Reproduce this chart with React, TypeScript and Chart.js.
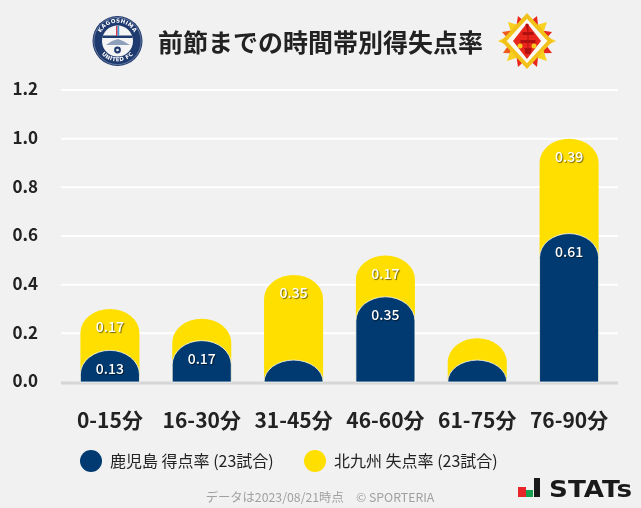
import React, { useEffect, useRef } from "react";
import { Chart, registerables } from "chart.js";

Chart.register(...registerables);

const categories = ["0-15分", "16-30分", "31-45分", "46-60分", "61-75分", "76-90分"];
const kagoshimaScored = [0.13, 0.17, 0.09, 0.35, 0.09, 0.61];
const kitakyushuConceded = [0.17, 0.09, 0.35, 0.17, 0.09, 0.39];
const yTicks = [0, 0.2, 0.4, 0.6, 0.8, 1.0, 1.2];
const kagoshimaLabel = "鹿児島 得点率 (23試合)";
const kitakyushuLabel = "北九州 失点率 (23試合)";
const titleText = "前節までの時間帯別得失点率";
const footerText = "データは2023/08/21時点　© SPORTERIA";
const labelThreshold = 0.1;

const FONT = '"Noto Sans CJK JP", "Noto Sans", sans-serif';
const NAVY = "#003a70";
const YELLOW = "#ffdf00";
const BG = "#f1f1f1";
const DOME_H = 24;
const LEGEND_X = [91, 315];

const domePlugin = {
  id: "dome",
  beforeDatasetsDraw(chart: any) {
    const { ctx, scales } = chart;
    const yScale = scales.y;
    const { left, right } = chart.chartArea;
    ctx.save();
    yScale.ticks.forEach((t: any) => {
      const py = yScale.getPixelForValue(t.value);
      ctx.beginPath();
      ctx.lineWidth = t.value === 0 ? 3 : 2;
      ctx.strokeStyle = t.value === 0 ? "#d6d6d6" : "#ffffff";
      ctx.moveTo(left - 3, t.value === 0 ? py + 1 : py);
      ctx.lineTo(right + 3, t.value === 0 ? py + 1 : py);
      ctx.stroke();
    });
    ctx.restore();
  },
  beforeDatasetDraw(chart: any, args: any) {
    const { ctx, scales } = chart;
    const zero = scales.y.getPixelForValue(0);
    const ds = chart.data.datasets[args.index];
    ctx.save();
    args.meta.data.forEach((el: any) => {
      const { x, y, width } = el.getProps(["x", "y", "width"], true);
      const rx = width / 2;
      const ry = Math.min(DOME_H, zero - y);
      const sy = y + ry;
      ctx.beginPath();
      ctx.moveTo(x - rx, zero);
      ctx.lineTo(x - rx, sy);
      ctx.ellipse(x, sy, rx, ry, 0, Math.PI, 2 * Math.PI);
      ctx.lineTo(x + rx, zero);
      ctx.closePath();
      ctx.fillStyle = ds.backgroundColor;
      ctx.fill();
      if (args.index === 0) {
        ctx.lineWidth = 1;
        ctx.strokeStyle = "rgba(255,255,255,0.75)";
        ctx.stroke();
      }
    });
    ctx.restore();
    return false;
  },
  afterDatasetsDraw(chart: any) {
    const { ctx } = chart;
    ctx.save();
    ctx.font = `500 14px ${FONT}`;
    ctx.textAlign = "center";
    ctx.textBaseline = "middle";
    chart.data.datasets.forEach((ds: any, i: number) => {
      chart.getDatasetMeta(i).data.forEach((el: any, j: number) => {
        const v = ds.data[j];
        if (v < labelThreshold) return;
        const { x, y } = el.getProps(["x", "y"], true);
        ctx.shadowColor = "rgba(0,0,0,0.55)";
        ctx.shadowBlur = 1;
        ctx.shadowOffsetX = 1;
        ctx.shadowOffsetY = 1;
        ctx.fillStyle = "#ffffff";
        ctx.fillText(v.toFixed(2), x, y + 18);
      });
    });
    ctx.restore();
  },
  afterLayout(chart: any) {
    const t = chart.titleBlock;
    if (t) {
      t.left = 13;
      t.right = 628;
    }
  },
  afterDraw(chart: any) {
    const { ctx } = chart;
    ctx.save();
    // legend
    ctx.textBaseline = "middle";
    ctx.textAlign = "left";
    ctx.font = `400 16px ${FONT}`;
    chart.data.datasets.forEach((ds: any, i: number) => {
      ctx.beginPath();
      ctx.arc(LEGEND_X[i], 461, 11, 0, Math.PI * 2);
      ctx.fillStyle = ds.backgroundColor;
      ctx.fill();
      ctx.fillStyle = "#222222";
      ctx.fillText(ds.label, LEGEND_X[i] + 19, 461);
    });
    // footer
    ctx.font = `400 12.3px ${FONT}`;
    ctx.fillStyle = "#a0a0a0";
    ctx.textAlign = "center";
    ctx.fillText(footerText, 320, 497);
    ctx.restore();
  },
};

const spikes: [number, number, string][] = [
  [518, 16, "#e8261c"], [537, 16, "#e8261c"], [502, 32, "#f05a1c"], [552, 32, "#e8261c"],
  [508, 22, "#f8d020"], [547, 22, "#f8d020"], [498, 41, "#f8d020"], [556, 41, "#f8d020"],
  [503, 53, "#f05a1c"], [552, 53, "#e8261c"], [507, 61, "#f8d020"], [547, 61, "#f8d020"],
  [518, 67, "#e8261c"], [537, 67, "#e8261c"],
];

function spikePoints(tx: number, ty: number) {
  const cx = 527;
  const cy = 41;
  const dx = tx - cx;
  const dy = ty - cy;
  const len = Math.hypot(dx, dy);
  const ux = dx / len;
  const uy = dy / len;
  const bx = cx + ux * 12;
  const by = cy + uy * 12;
  return `${tx},${ty} ${bx - uy * 8},${by + ux * 8} ${bx + uy * 8},${by - ux * 8}`;
}

export default function App() {
  const ref = useRef<HTMLCanvasElement>(null);
  useEffect(() => {
    document.body.style.margin = "0";
    document.body.style.background = BG;
    const chart = new Chart(ref.current as HTMLCanvasElement, {
      type: "bar",
      data: {
        labels: categories,
        datasets: [
          { label: kagoshimaLabel, data: kagoshimaScored, backgroundColor: NAVY, categoryPercentage: 0.643, barPercentage: 1 },
          { label: kitakyushuLabel, data: kitakyushuConceded, backgroundColor: YELLOW, categoryPercentage: 0.643, barPercentage: 1 },
        ],
      },
      plugins: [domePlugin],
      options: {
        responsive: false,
        animation: false,
        devicePixelRatio: 1,
        layout: { padding: { left: 0, right: 26, top: 0, bottom: 70 } },
        plugins: {
          tooltip: { enabled: false },
          title: {
            display: true,
            text: titleText,
            color: "#222222",
            font: { family: FONT, size: 25, weight: "700" },
            padding: { top: 27, bottom: 33 },
          },
          legend: { display: false },
        },
        scales: {
          x: {
            stacked: true,
            grid: { display: false, drawTicks: false },
            border: { display: false },
            ticks: { color: "#222222", font: { family: FONT, size: 21, weight: "700" }, padding: 25, maxRotation: 0, autoSkip: false },
            afterFit: (s: any) => { s.height = 56; },
          },
          y: {
            stacked: true,
            min: 0,
            max: 1.2,
            afterBuildTicks: (s: any) => { s.ticks = yTicks.map((value) => ({ value })); },
            grid: { display: false, drawTicks: false },
            border: { display: false },
            ticks: { color: "#222222", font: { family: FONT, size: 17, weight: "700" }, padding: 26, labelOffset: -1, callback: (v: any) => Number(v).toFixed(1) },
            afterFit: (s: any) => { s.width = 64; },
          },
        },
      } as any,
    });
    return () => chart.destroy();
  }, []);

  return (
    <div style={{ position: "fixed", left: 0, top: 0, width: 641, height: 508, background: BG, overflow: "hidden" }}>
      <canvas ref={ref} width={641} height={508} style={{ display: "block" }} />
      <svg width={641} height={508} style={{ position: "absolute", left: 0, top: 0, pointerEvents: "none" }}>
        {/* Kagoshima crest */}
        <g>
          <circle cx={117.5} cy={41} r={25} fill="#1f3a6e" />
          <circle cx={117.5} cy={41} r={23.6} fill="none" stroke="#aab6cc" strokeWidth={0.5} />
          <circle cx={117.5} cy={41} r={15.5} fill="#f4f4f4" />
          <path d="M102.5 35.5h30v2.5h-30z" fill="#1f3a6e" />
          <path d="M106 45l6-4 6-2 5 2 7 4z" fill="#8fa0bb" />
          <rect x={116} y={26} width={1.6} height={10} fill="#d8344a" />
          <rect x={117.6} y={26} width={1.6} height={10} fill="#3a9ad0" />
          <circle cx={117.5} cy={50} r={3.4} fill="#1f3a6e" />
          <circle cx={117.5} cy={50} r={1.3} fill="#f4f4f4" />
          <defs>
            <path id="crestTop" d="M99 41a18.5 18.5 0 0 1 37 0" />
            <path id="crestBottom" d="M96 44a22 22 0 0 0 43 0" />
          </defs>
          <text fontFamily='"DejaVu Sans", sans-serif' fontSize={5.5} fontWeight={700} fill="#ffffff" letterSpacing={0.3}>
            <textPath href="#crestTop" startOffset="50%" textAnchor="middle">KAGOSHIMA</textPath>
          </text>
          <text fontFamily='"DejaVu Sans", sans-serif' fontSize={5.5} fontWeight={700} fill="#ffffff" letterSpacing={0.3}>
            <textPath href="#crestBottom" startOffset="50%" textAnchor="middle">UNITED FC</textPath>
          </text>
        </g>
        {/* Kitakyushu crest */}
        <g>
          {spikes.map(([x, y, c], i) => (
            <polygon key={i} points={spikePoints(x, y)} fill={c} />
          ))}
          <polygon points="527,16 550,41 527,66 504,41" fill="#fbfbf4" stroke="#f2c21a" strokeWidth={4} />
          <polygon points="527,23 541,41 527,59 513,41" fill="#e8261c" />
          <path d="M525.5 24h3v8h5v3h-5v5h7v3h-7v5h3l-1 6h-5l-1-6h3v-5h-7v-3h7v-5h-5v-3h5z" fill="#b01010" />
          <circle cx={520} cy={46} r={2.5} fill="#f8c81e" />
          <circle cx={534} cy={46} r={2.5} fill="#f8c81e" />
        </g>
        {/* STATs logo */}
        <g>
          <rect x={518} y={487} width={8} height={10} fill="#e8262a" />
          <rect x={526} y={490} width={7} height={7} fill="#16a050" />
          <rect x={534} y={478} width={6} height={19} fill="#1a1a1a" />
          <text x={549} y={496.5} fontFamily='"DejaVu Sans", sans-serif' fontWeight={700} fontSize={23} textLength={83} lengthAdjust="spacingAndGlyphs" fill="#1a1a1a">STATs</text>
        </g>
      </svg>
    </div>
  );
}
